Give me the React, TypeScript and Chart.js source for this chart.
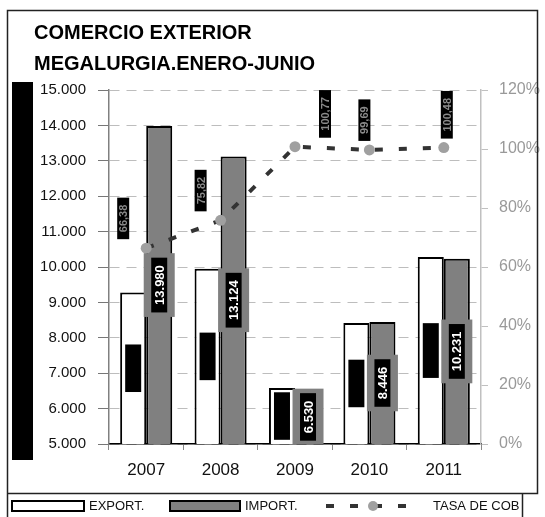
import React, { useEffect, useRef } from "react";
import { Chart, registerables } from "chart.js";

Chart.register(...registerables);

const years = ["2007", "2008", "2009", "2010", "2011"];
const exportValues = [9280, 9950, 6580, 8420, 10280];
const importValues = [13980, 13124, 6530, 8446, 10231];
const coverageRate = [66.38, 75.82, 100.77, 99.69, 100.48];
const titleLines = ["COMERCIO EXTERIOR", "MEGALURGIA.ENERO-JUNIO"];
const legendLabels = ["EXPORT.", "IMPORT.", "TASA DE COB"];

// label offsets (style only), relative to library-computed points
const rateLabelDx = [-23, -20, 30, -5, 3];

const FONT = '"Liberation Sans", Arial, sans-serif';

function fmtThousands(v: number): string {
  const s = Math.round(v).toString();
  return s.replace(/\B(?=(\d{3})+(?!\d))/g, ".");
}
function fmtRate(v: number): string {
  return v.toFixed(2).replace(".", ",");
}

const decorPlugin = {
  id: "decor",
  beforeDraw(chart: any) {
    const ctx = chart.ctx;
    ctx.save();
    ctx.fillStyle = "#fff";
    ctx.fillRect(0, 0, chart.width, chart.height);
    ctx.restore();
  },
  afterDraw(chart: any) {
    const ctx = chart.ctx;
    ctx.save();
    // frame
    ctx.strokeStyle = "#222";
    ctx.lineWidth = 1.5;
    ctx.beginPath();
    ctx.moveTo(7.5, 517);
    ctx.lineTo(7.5, 10.5);
    ctx.lineTo(537.5, 10.5);
    ctx.lineTo(537.5, 493.5);
    ctx.lineTo(7.5, 493.5);
    ctx.moveTo(522.5, 493.5);
    ctx.lineTo(522.5, 517);
    ctx.stroke();

    // black vertical band
    ctx.fillStyle = "#000";
    ctx.fillRect(12, 82, 21, 378);

    // title
    ctx.fillStyle = "#000";
    ctx.font = `bold 20px ${FONT}`;
    ctx.textAlign = "left";
    ctx.textBaseline = "alphabetic";
    ctx.fillText(titleLines[0], 34, 39);
    ctx.fillText(titleLines[1], 34, 70);

    // legend
    const ly = 506;
    ctx.lineWidth = 2;
    ctx.strokeStyle = "#000";
    ctx.fillStyle = "#fff";
    ctx.fillRect(12, 501, 72, 10);
    ctx.strokeRect(12, 501, 72, 10);
    ctx.fillStyle = "#808080";
    ctx.fillRect(170, 501, 70, 10);
    ctx.strokeRect(170, 501, 70, 10);

    ctx.font = `13px ${FONT}`;
    ctx.fillStyle = "#111";
    ctx.textBaseline = "middle";
    ctx.fillText(legendLabels[0], 89, ly);
    ctx.fillText(legendLabels[1], 245, ly);
    ctx.fillText(legendLabels[2], 433, ly);

    ctx.strokeStyle = "#333";
    ctx.lineWidth = 4;
    ctx.setLineDash([8, 16]);
    ctx.beginPath();
    ctx.moveTo(326, ly);
    ctx.lineTo(420, ly);
    ctx.stroke();
    ctx.setLineDash([]);
    ctx.fillStyle = "#a0a0a0";
    ctx.beginPath();
    ctx.arc(373, ly, 5, 0, Math.PI * 2);
    ctx.fill();
    ctx.restore();
  },
};

const labelsPlugin = {
  id: "valueLabels",
  afterDatasetsDraw(chart: any) {
    const ctx = chart.ctx;
    const area = chart.chartArea;
    ctx.save();
    ctx.beginPath();
    ctx.rect(area.left, area.top, area.right - area.left, area.bottom - area.top);
    ctx.clip();
    const barSets = [
      { index: 1, values: exportValues, outer: "#ffffff", text: "#000" },
      { index: 2, values: importValues, outer: "#808080", text: "#fff" },
    ];
    ctx.font = `bold 13px ${FONT}`;
    ctx.textAlign = "center";
    ctx.textBaseline = "middle";
    for (const set of barSets) {
      const meta = chart.getDatasetMeta(set.index);
      meta.data.forEach((bar: any, i: number) => {
        const p = bar.getProps(["x", "y", "base"], true);
        const base = Math.min(p.base, area.bottom);
        const cy = (p.y + base) / 2;
        const text = fmtThousands(set.values[i]);
        const tw = ctx.measureText(text).width;
        const ih = tw + 15;
        const iw = 16;
        const oh = ih + 9;
        const ow = iw + 15;
        if (set.outer !== "#ffffff") {
          ctx.fillStyle = set.outer;
          ctx.fillRect(p.x - ow / 2, cy - oh / 2, ow, oh);
        }
        ctx.fillStyle = "#000";
        ctx.fillRect(p.x - iw / 2, cy - ih / 2, iw, ih);
        ctx.save();
        ctx.translate(p.x, cy);
        ctx.rotate(-Math.PI / 2);
        ctx.fillStyle = set.text;
        ctx.fillText(text, 0, 1);
        ctx.restore();
      });
    }
    ctx.restore();

    // coverage rate labels
    ctx.save();
    ctx.font = `bold 11px ${FONT}`;
    ctx.textAlign = "center";
    ctx.textBaseline = "middle";
    const lmeta = chart.getDatasetMeta(0);
    lmeta.data.forEach((pt: any, i: number) => {
      const p = pt.getProps(["x", "y"], true);
      const text = fmtRate(coverageRate[i]);
      const tw = ctx.measureText(text).width;
      const h = tw + 14;
      const w = 12;
      const cx = p.x + rateLabelDx[i];
      const bottom = p.y - 9;
      ctx.fillStyle = "#000";
      ctx.fillRect(cx - w / 2, bottom - h, w, h);
      ctx.save();
      ctx.translate(cx, bottom - h / 2);
      ctx.rotate(-Math.PI / 2);
      ctx.fillStyle = "#8a8a8a";
      ctx.fillText(text, 0, 1);
      ctx.restore();
    });
    ctx.restore();
  },
};

export default function App() {
  const canvasRef = useRef<HTMLCanvasElement | null>(null);

  useEffect(() => {
    if (!canvasRef.current) return;
    Chart.defaults.font.family = FONT;
    const chart = new Chart(canvasRef.current, {
      type: "bar",
      data: {
        labels: years,
        datasets: [
          {
            type: "line",
            label: legendLabels[2],
            data: coverageRate,
            yAxisID: "y1",
            borderColor: "#333",
            borderWidth: 4,
            borderDash: [8, 16],
            pointRadius: 5.5,
            pointBackgroundColor: "#a0a0a0",
            pointBorderWidth: 0,
            tension: 0,
            order: 0,
          } as any,
          {
            type: "bar",
            label: legendLabels[0],
            data: exportValues,
            yAxisID: "y",
            backgroundColor: "#ffffff",
            borderColor: "#000",
            borderWidth: 2,
            categoryPercentage: 0.7,
            barPercentage: 1.0,
            order: 1,
          },
          {
            type: "bar",
            label: legendLabels[1],
            data: importValues,
            yAxisID: "y",
            backgroundColor: "#808080",
            borderColor: "#000",
            borderWidth: 2,
            categoryPercentage: 0.7,
            barPercentage: 1.0,
            order: 1,
          },
        ],
      },
      options: {
        responsive: false,
        animation: false,
        layout: { padding: { top: 90, left: 0, right: 0, bottom: 0 } },
        plugins: {
          legend: { display: false },
          title: { display: false },
          tooltip: { enabled: false },
        },
        scales: {
          x: {
            z: 1,
            grid: {
              display: true,
              drawOnChartArea: false,
              drawTicks: true,
              tickLength: 6,
              tickColor: "#888",
              offset: true,
            },
            border: { display: true, color: "#000", width: 1.5 },
            ticks: { color: "#111", font: { size: 17 }, padding: 10 },
            afterFit: (s: any) => {
              s.height = 73;
            },
          },
          y: {
            position: "left",
            min: 5000,
            max: 15000,
            ticks: {
              stepSize: 1000,
              color: "#111",
              font: { size: 15 },
              padding: 12,
              callback: (v: any) => fmtThousands(Number(v)),
            },
            grid: {
              color: "#bdbdbd",
              lineWidth: 1,
              tickLength: 11,
              tickColor: "#777",
              borderDash: [10, 7],
              tickBorderDash: [],
            },
            border: { color: "#808080", width: 1.5, dash: [10, 7] },
            afterFit: (s: any) => {
              s.width = 109;
            },
          },
          y1: {
            position: "right",
            min: 0,
            max: 120,
            ticks: {
              stepSize: 20,
              color: "#999",
              font: { size: 16 },
              padding: 11,
              callback: (v: any) => `${v}%`,
            },
            grid: {
              drawOnChartArea: false,
              tickLength: 7,
              tickColor: "#c0c0c0",
            },
            border: { color: "#c0c0c0", width: 1.5 },
            afterFit: (s: any) => {
              s.width = 64;
            },
          },
        },
      } as any,
      plugins: [decorPlugin, labelsPlugin],
    });
    return () => chart.destroy();
  }, []);

  return (
    <div style={{ position: "absolute", left: 0, top: 0, width: 545, height: 517 }}>
      <canvas ref={canvasRef} width={545} height={517} style={{ display: "block" }} />
    </div>
  );
}
